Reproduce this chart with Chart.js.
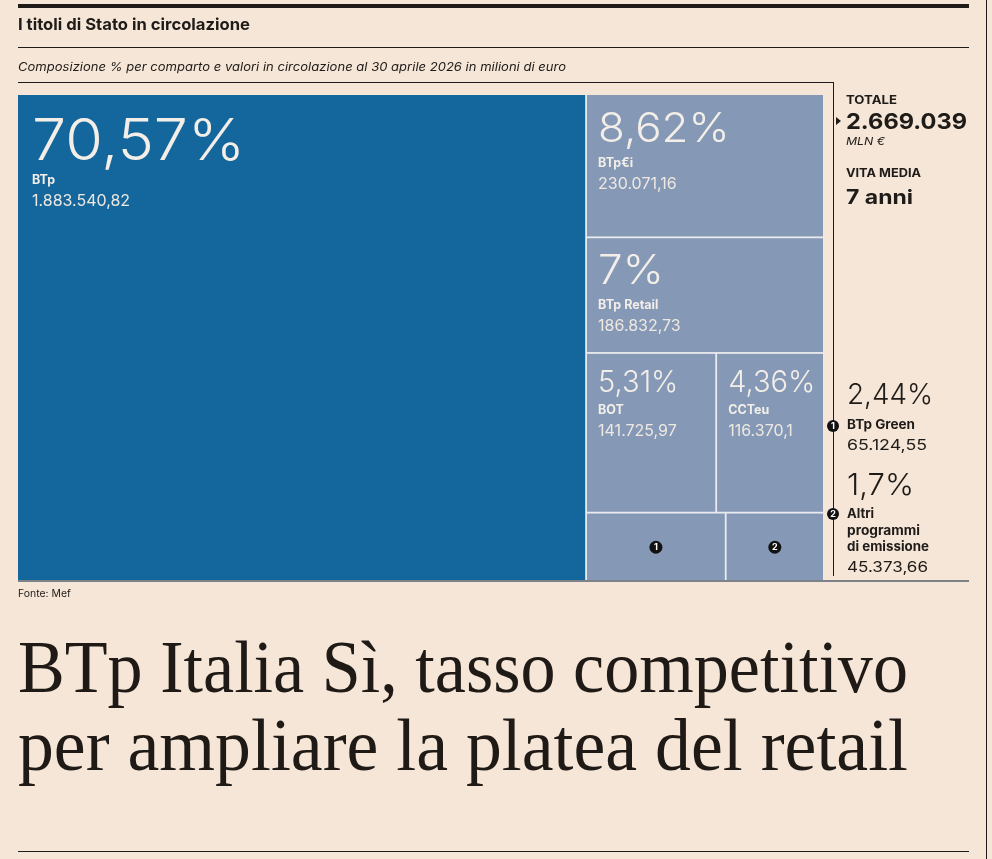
<!DOCTYPE html>
<html>
<head>
<meta charset="utf-8">
<script src="https://cdn.jsdelivr.net/npm/chart.js@4.4.1/dist/chart.umd.min.js"></script>
<style>
html,body{margin:0;padding:0;background:#f5e6d7;}
#wrap{position:relative;width:992px;height:859px;overflow:hidden;background:#f5e6d7;font-family:Inter,"Noto Sans",sans-serif;color:#1e1b18;}
#c{position:absolute;left:0;top:0;width:992px;height:859px;}
.t{position:absolute;white-space:nowrap;line-height:1.2;transform-origin:0 0;}
.ln{position:absolute;background:#1e1b18;}
.mk{position:absolute;width:12px;height:12px;border-radius:50%;background:#111;color:#fff;font:700 9px Inter,sans-serif;line-height:12px;text-align:center;}
</style>
</head>
<body>
<div id="wrap">
<canvas id="c" width="992" height="859"></canvas>

<div class="ln" style="left:18px;top:4px;width:951px;height:3.5px"></div>
<div class="ln" style="left:18px;top:47px;width:951px;height:1.2px"></div>
<div class="ln" style="left:18px;top:82px;width:816px;height:1.2px"></div>
<div class="ln" style="left:833px;top:82px;width:1.2px;height:494px"></div>
<div class="ln" style="left:18px;top:580px;width:951px;height:1.6px;background:#7d8288"></div>
<div class="ln" style="left:18px;top:851px;width:951px;height:1.4px"></div>
<div class="ln" style="left:985.5px;top:0;width:1.5px;height:859px"></div>
<div style="position:absolute;left:836px;top:117px;width:0;height:0;border-top:4px solid transparent;border-bottom:4px solid transparent;border-left:5px solid #1e1b18"></div>

<div class="mk" style="left:827px;top:420px">1</div>
<div class="mk" style="left:827px;top:508px">2</div>

<div id="texts"></div>
</div>

<script>
// ---- data ----
const categories = ['BTp', 'BTp€i', 'BTp Retail', 'BOT', 'CCTeu', 'BTp Green', 'Altri programmi di emissione'];
const shares = [70.57, 8.62, 7, 5.31, 4.36, 2.44, 1.7];
const amounts = [1883540.82, 230071.16, 186832.73, 141725.97, 116370.1, 65124.55, 45373.66];
// treemap grouping: group 0 is the left column, the other groups are rows stacked in the right column
const tileGroup = [0, 1, 2, 3, 3, 4, 4];
const totalLabel = '2.669.039';
const avgLife = '7 anni';

function fmtIt(v) {
  const parts = v.toFixed(2).replace(/0+$/, '').replace(/\.$/, '').split('.');
  const int = parts[0].replace(/\B(?=(\d{3})+(?!\d))/g, '.');
  return parts[1] ? int + ',' + parts[1] : int;
}
function fmtPct(v) { return String(v).replace('.', ',') + '%'; }

// ---- HTML texts (placed by baseline) ----
const textsEl = document.getElementById('texts');
function txt(s, x, base, css, targetW) {
  const el = document.createElement('div');
  el.className = 't';
  el.style.cssText += css;
  el.textContent = s;
  const m = document.createElement('span');
  m.style.cssText = 'display:inline-block;width:0;height:0;vertical-align:baseline';
  el.appendChild(m);
  textsEl.appendChild(el);
  el.style.left = x + 'px';
  el.style.top = '0px';
  const off = m.offsetTop;
  el.style.top = (base - off) + 'px';
  if (targetW) {
    const w = el.getBoundingClientRect().width;
    el.style.transform = 'scaleX(' + (targetW / w) + ')';
  }
  return el;
}
const SERIF = 'font-family:"Liberation Serif","DejaVu Serif",serif;';
txt('I titoli di Stato in circolazione', 18, 30, 'font-weight:700;font-size:16.5px;', 232);
txt('Composizione % per comparto e valori in circolazione al 30 aprile 2026 in milioni di euro', 18, 71, 'font-style:italic;font-size:11.5px;', 548);
txt('Fonte: Mef', 18, 597, 'font-size:10px;', 53);
txt('BTp Italia Sì, tasso competitivo', 18, 692, SERIF + 'font-size:74px;color:#1f1a16;', 890);
txt('per ampliare la platea del retail', 18, 770, SERIF + 'font-size:74px;color:#1f1a16;', 890);

txt('TOTALE', 846, 104, 'font-weight:700;font-size:11.5px;', 51);
txt(totalLabel, 846, 129, 'font-weight:700;font-size:22px;', 121);
txt('MLN €', 846, 145, 'font-style:italic;font-size:11px;', 39);
txt('VITA MEDIA', 846, 177, 'font-weight:700;font-size:11.5px;', 75);
txt(avgLife, 846, 204, 'font-weight:700;font-size:20px;', 67);

txt(fmtPct(shares[5]), 847, 404, 'font-weight:300;font-size:28px;', 86);
txt(categories[5], 847, 429, 'font-weight:700;font-size:13px;', 68);
txt(fmtIt(amounts[5]), 847, 450, 'font-size:14.5px;', 80);
txt(fmtPct(shares[6]), 847, 495, 'font-weight:300;font-size:30px;', 67);
txt('Altri', 847, 518, 'font-weight:700;font-size:13px;');
txt('programmi', 847, 534.5, 'font-weight:700;font-size:13px;', 73);
txt('di emissione', 847, 551, 'font-weight:700;font-size:13px;', 82);
txt(fmtIt(amounts[6]), 847, 572, 'font-size:14.5px;', 81);

// ---- treemap layout in value space (0..100 on both axes) ----
function layoutTiles(vals, groups) {
  const total = vals.reduce((a, b) => a + b, 0);
  const gsum = {};
  vals.forEach((v, i) => { gsum[groups[i]] = (gsum[groups[i]] || 0) + v; });
  const leftW = gsum[0] / total * 100;
  const restTotal = total - gsum[0];
  const rects = [];
  let yy = 0;
  vals.forEach((v, i) => {
    if (groups[i] === 0) { const h = v / gsum[0] * 100; rects.push({ i, x0: 0, x1: leftW, y0: yy, y1: yy + h }); yy += h; }
  });
  const rowIds = [...new Set(groups.filter(g => g !== 0))];
  let ry = 0;
  rowIds.forEach(g => {
    const rh = gsum[g] / restTotal * 100;
    let rx = leftW;
    vals.forEach((v, i) => {
      if (groups[i] === g) { const w = v / gsum[g] * (100 - leftW); rects.push({ i, x0: rx, x1: rx + w, y0: ry, y1: ry + rh }); rx += w; }
    });
    ry += rh;
  });
  return rects;
}

const treemapPlugin = {
  id: 'treemap',
  afterDatasetsDraw(chart) {
    const { ctx, scales } = chart;
    const xs = scales.x, ys = scales.y;
    const rects = layoutTiles(amounts, tileGroup);
    ctx.save();
    ctx.fillStyle = '#e9ebee';
    ctx.fillRect(xs.getPixelForValue(0), ys.getPixelForValue(0), xs.getPixelForValue(100) - xs.getPixelForValue(0), ys.getPixelForValue(100) - ys.getPixelForValue(0));
    let markerNo = 0;
    rects.sort((a, b) => a.i - b.i).forEach(r => {
      const g = 0.9;
      const px0 = xs.getPixelForValue(r.x0) + (r.x0 > 0.01 ? g : 0);
      const px1 = xs.getPixelForValue(r.x1) - (r.x1 < 99.99 ? g : 0);
      const py0 = ys.getPixelForValue(r.y0) + (r.y0 > 0.01 ? g : 0);
      const py1 = ys.getPixelForValue(r.y1) - (r.y1 < 99.99 ? g : 0);
      ctx.fillStyle = r.i === 0 ? '#13679c' : '#8599b7';
      ctx.fillRect(px0, py0, px1 - px0, py1 - py0);
      const w = px1 - px0, h = py1 - py0;
      const tx = ys.getPixelForValue(r.y0), lx = xs.getPixelForValue(r.x0);
      ctx.textAlign = 'left';
      ctx.textBaseline = 'alphabetic';
      if (h > 100) {
        let ps, o1, o2, o3, pad, sx;
        if (w > 400) { ps = 57; o1 = 65; o2 = 89; o3 = 111; pad = 14; sx = 1.07; }
        else if (w > 200) { ps = 41; o1 = 47; o2 = 72; o3 = 94; pad = 12; sx = 1.07; }
        else { ps = 30; o1 = 39; o2 = 61; o3 = 83; pad = 12; sx = 0.97; }
        ctx.fillStyle = '#f3eee8';
        ctx.font = '300 ' + ps + 'px Inter, sans-serif';
        ctx.save();
        ctx.translate(lx + pad, tx + o1);
        ctx.scale(sx, 1);
        ctx.fillText(fmtPct(shares[r.i]), 0, 0);
        ctx.restore();
        ctx.font = '700 12.5px Inter, sans-serif';
        ctx.fillText(categories[r.i], lx + pad, tx + o2);
        ctx.font = '400 16px Inter, sans-serif';
        ctx.fillStyle = '#eee8e0';
        ctx.fillText(fmtIt(amounts[r.i]), lx + pad, tx + o3);
      } else {
        markerNo++;
        const cx = (px0 + px1) / 2, cy = (py0 + py1) / 2;
        ctx.beginPath();
        ctx.arc(cx, cy, 6.5, 0, Math.PI * 2);
        ctx.fillStyle = '#111';
        ctx.fill();
        ctx.fillStyle = '#fff';
        ctx.font = '700 9px Inter, sans-serif';
        ctx.textAlign = 'center';
        ctx.textBaseline = 'middle';
        ctx.fillText(String(markerNo), cx, cy + 0.5);
      }
    });
    ctx.restore();
  }
};

new Chart(document.getElementById('c'), {
  type: 'scatter',
  data: { datasets: [{ data: [], pointRadius: 0 }] },
  options: {
    responsive: false,
    animation: false,
    events: [],
    layout: { padding: { left: 18, top: 95, right: 169, bottom: 278 } },
    plugins: { legend: { display: false }, tooltip: { enabled: false }, title: { display: false } },
    scales: {
      x: { type: 'linear', min: 0, max: 100, display: false },
      y: { type: 'linear', min: 0, max: 100, reverse: true, display: false }
    }
  },
  plugins: [treemapPlugin]
});
</script>
</body>
</html>
